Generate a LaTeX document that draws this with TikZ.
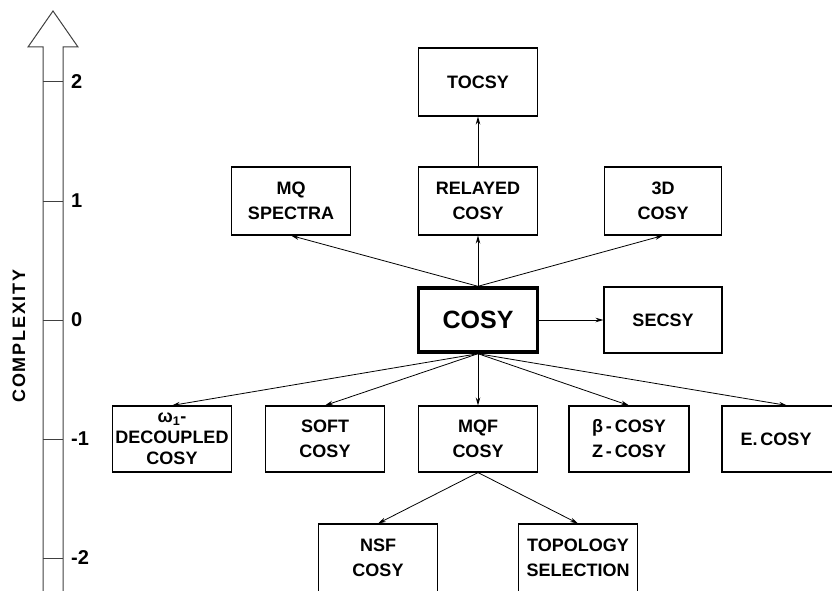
\documentclass[tikz,border=0pt]{standalone}
\usepackage{fontspec}
\setmainfont{Liberation Sans}
\newfontfamily\spacedfont{Liberation Sans}[LetterSpace=10]
\usetikzlibrary{arrows.meta}
\begin{document}
\begin{tikzpicture}[x=1pt, y=-1pt,
  box/.style={draw, line width=1.1pt, minimum width=119pt, minimum height=68pt,
    inner sep=0pt, align=center, font=\fontsize{18}{25}\selectfont\bfseries},
  mainbox/.style={box, line width=3.4pt, minimum height=64pt,
    font=\fontsize{25}{30}\selectfont\bfseries},
  link/.style={-{Stealth[length=8pt, width=4.5pt]}, line width=0.8pt},
  axis/.style={line width=1pt, draw=black!75},
  ticklabel/.style={anchor=west, inner sep=0pt, font=\fontsize{20}{22}\selectfont\bfseries}]
  \def\Xmid{478};
  \def\Xl{291};
  \def\Xr{663};
  \def\Xaxis{53};
  \def\Yzero{320};
  \def\dY{119};

  \clip (0,0) rectangle (832,591);

  % axis
  \draw[axis] (\Xaxis - 10, 600) -- (\Xaxis - 10, 47) -- (\Xaxis - 25, 47)
    -- (\Xaxis, 11) -- (\Xaxis + 25, 47) -- (\Xaxis + 10, 47) -- (\Xaxis + 10, 600);
  \foreach \k/\t in {2/2, 1/1, 0/0, -1/{-1}, -2/{-2}} {
    \draw[axis] (\Xaxis - 10, \Yzero - \k * \dY) -- (\Xaxis + 10, \Yzero - \k * \dY);
    \node[ticklabel] (tick\k) at (\Xaxis + 18, \Yzero - \k * \dY) {\t};
  }
  \node[rotate=90, font=\fontsize{18}{20}\selectfont\bfseries\spacedfont] (complexity)
    at (19, 336) {COMPLEXITY};

  % boxes
  \node[mainbox] (cosy) at (\Xmid, \Yzero) {COSY};
  \node[box, minimum width=118pt, minimum height=66pt] (secsy) at (\Xr, \Yzero) {SECSY};

  \node[box] (relayed) at (\Xmid, \Yzero - \dY) {RELAYED\\COSY};
  \node[box] (mq) at (\Xl, \Yzero - \dY) {MQ\\SPECTRA};
  \node[box, minimum width=117pt] (threed) at (\Xr, \Yzero - \dY) {3D\\COSY};
  \node[box] (tocsy) at (\Xmid, \Yzero - 2 * \dY) {TOCSY};

  \node[box, minimum height=66pt, font=\fontsize{18}{21}\selectfont\bfseries] (omega)
    at (172, \Yzero + \dY) {ω\textsubscript{1}-\\DECOUPLED\\COSY};
  \node[box, minimum height=66pt] (soft) at (325, \Yzero + \dY) {SOFT\\COSY};
  \node[box, minimum height=66pt] (mqf) at (\Xmid, \Yzero + \dY) {MQF\\COSY};
  \node[box, minimum width=120pt, minimum height=66pt] (beta) at (629, \Yzero + \dY)
    {β\,-\,COSY\\Z\,-\,COSY};
  \node[box, minimum width=114pt, minimum height=66pt] (ecosy) at (779, \Yzero + \dY)
    {\hspace*{-6pt}E.\,COSY};

  \node[box] (nsf) at (378, \Yzero + 2 * \dY) {NSF\\COSY};
  \node[box] (topo) at (578, \Yzero + 2 * \dY) {TOPOLOGY\\SELECTION};

  % arrows
  \draw[link] (cosy) -- (secsy);
  \draw[link] (cosy.north) -- (mq.south);
  \draw[link] (cosy.north) -- (relayed.south);
  \draw[link] (cosy.north) -- (threed.south);
  \draw[link] (relayed.north) -- (tocsy.south);
  \foreach \n in {omega, soft, mqf, beta} {
    \draw[link] (cosy.south) -- (\n.north);
  }
  \draw[link] (cosy.south) -- ([xshift=8pt]ecosy.north);
  \draw[link] (mqf.south) -- (nsf.north);
  \draw[link] (mqf.south) -- (topo.north);
\end{tikzpicture}
\end{document}
